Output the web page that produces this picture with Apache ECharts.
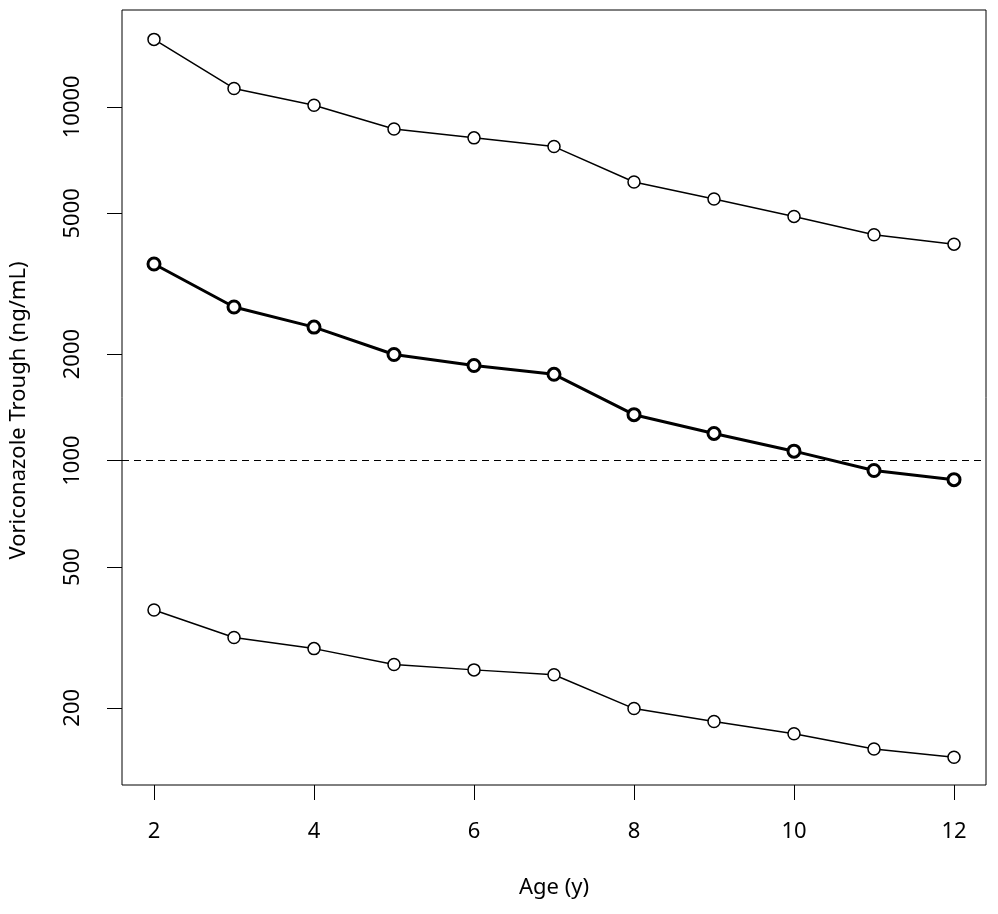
<!DOCTYPE html>
<html>
<head>
<meta charset="utf-8">
<script src="https://cdn.jsdelivr.net/npm/echarts@6/dist/echarts.min.js"></script>
<style>
html,body{margin:0;padding:0;background:#fff;}
#chart{width:998px;height:914px;}
</style>
</head>
<body>
<div id="chart"></div>
<script>
// Data
const ages = [2, 3, 4, 5, 6, 7, 8, 9, 10, 11, 12];
const upper95 = [15510, 11270, 10100, 8660, 8170, 7720, 6130, 5490, 4900, 4350, 4090];
const median = [3595, 2716, 2384, 1994, 1856, 1753, 1348, 1193, 1063, 937, 883];
const lower5 = [378, 316, 294, 265, 256, 248, 199, 183, 169, 153, 145];
const xTicks = [2, 4, 6, 8, 10, 12];
const yTicks = [200, 500, 1000, 2000, 5000, 10000];
const targetTrough = 1000;

const FONT = 'Noto Sans';

function pairs(ys) { return ages.map((a, i) => [a, ys[i]]); }

const chart = echarts.init(document.getElementById('chart'), null, {renderer: 'canvas'});

const thinSeries = (name, ys) => ({
  name: name,
  type: 'line',
  data: pairs(ys),
  symbol: 'circle',
  symbolSize: 12,
  showSymbol: true,
  lineStyle: {color: '#000', width: 1.5},
  itemStyle: {color: '#fff', borderColor: '#000', borderWidth: 1.5},
  emphasis: {disabled: true},
  z: 3
});

chart.setOption({
  animation: false,
  backgroundColor: '#fff',
  grid: {
    left: 122, right: 12, top: 10, bottom: 129,
    show: true, borderColor: '#000', borderWidth: 1, backgroundColor: 'transparent'
  },
  xAxis: {
    type: 'value',
    min: 1.6, max: 12.4,
    name: 'Age (y)',
    nameLocation: 'middle',
    nameGap: 92,
    nameTextStyle: {fontFamily: FONT, fontSize: 22, color: '#000'},
    axisLine: {show: false},
    axisTick: {show: true, inside: false, length: 15, lineStyle: {color: '#000', width: 1}, customValues: xTicks},
    axisLabel: {show: true, margin: 36, fontFamily: FONT, fontSize: 22, color: '#000', customValues: xTicks},
    splitLine: {show: false}
  },
  yAxis: {
    type: 'log',
    logBase: 10,
    min: 121, max: 18780,
    name: 'Voriconazole Trough (ng/mL)',
    nameLocation: 'middle',
    nameGap: 92,
    nameTextStyle: {fontFamily: FONT, fontSize: 22, color: '#000', padding: [0, 26, 0, 0]},
    axisLine: {show: false},
    axisTick: {show: true, inside: false, length: 15, lineStyle: {color: '#000', width: 1}, customValues: yTicks},
    axisLabel: {show: true, rotate: 90, margin: 38, fontFamily: FONT, fontSize: 22, color: '#000', customValues: yTicks,
      formatter: v => String(Math.round(v))},
    splitLine: {show: false}
  },
  series: [
    thinSeries('Upper', upper95),
    {
      name: 'Median',
      type: 'line',
      data: pairs(median),
      symbol: 'circle',
      symbolSize: 12,
      lineStyle: {color: '#000', width: 3},
      itemStyle: {color: '#fff', borderColor: '#000', borderWidth: 3},
      emphasis: {disabled: true},
      z: 4,
      markLine: {
        silent: true,
        symbol: ['none', 'none'],
        label: {show: false},
        lineStyle: {color: '#000', width: 1, type: [7, 5]},
        data: [{yAxis: targetTrough}],
        z: 2
      }
    },
    thinSeries('Lower', lower5)
  ]
});
</script>
</body>
</html>
